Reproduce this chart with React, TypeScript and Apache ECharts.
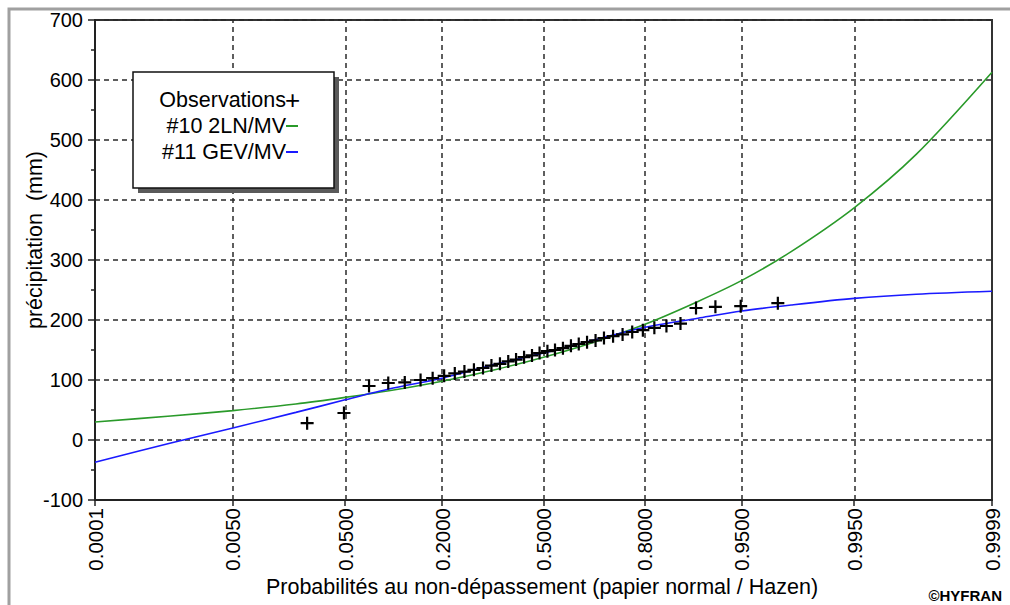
import React, { useEffect, useRef } from "react";
import * as echarts from "echarts";

// ---- Data ----
const xTickProbs = [0.0001, 0.005, 0.05, 0.2, 0.5, 0.8, 0.95, 0.995, 0.9999];
const xTickLabels = ["0.0001", "0.0050", "0.0500", "0.2000", "0.5000", "0.8000", "0.9500", "0.9950", "0.9999"];
const yMin = -100;
const yMax = 700;
const yStep = 100;

// Observations: non-exceedance probability (plotting position) and precipitation (mm)
const obsProb = [
  0.025, 0.049, 0.074, 0.099, 0.125, 0.154, 0.179, 0.205, 0.231, 0.256,
  0.282, 0.308, 0.333, 0.359, 0.385, 0.41, 0.436, 0.462, 0.487, 0.513,
  0.538, 0.564, 0.59, 0.615, 0.641, 0.667, 0.692, 0.718, 0.744, 0.769,
  0.795, 0.821, 0.846, 0.872, 0.897, 0.923, 0.949, 0.974,
];
const obsValue = [
  28, 45, 90, 95, 96, 100, 103, 107, 111, 114,
  117, 120, 124, 127, 131, 134, 138, 141, 145, 148,
  150, 153, 157, 160, 163, 166, 170, 173, 176, 180,
  183, 187, 190, 194, 220, 222, 223, 228,
];

// Fitted curves
const curveProb = [0.0001, 0.001, 0.005, 0.02, 0.05, 0.1, 0.2, 0.35, 0.5, 0.65, 0.8, 0.9, 0.95, 0.98, 0.995, 0.999, 0.9999];
const ln2Value = [30, 40, 49, 60, 71, 82, 98, 118, 138, 161, 193, 231, 266, 314, 387, 476, 613];
const gevValue = [-37, -5, 20, 46, 67, 85, 103, 127, 145, 165, 188, 203, 215, 225, 236, 243, 248];

const legendNames = ["Observations", "#10 2LN/MV", "#11 GEV/MV"];
const xTitle = "Probabilités au non-dépassement (papier normal / Hazen)";
const yTitle = "précipitation  (mm)";
const credit = "©HYFRAN";

// normal probability paper scale: probability -> standard normal quantile
function probit(p: number): number {
  const a = [-3.969683028665376e1, 2.209460984245205e2, -2.759285104469687e2, 1.38357751867269e2, -3.066479806614716e1, 2.506628277459239];
  const b = [-5.447609879822406e1, 1.615858368580409e2, -1.556989798598866e2, 6.680131188771972e1, -1.328068155288572e1];
  const c = [-7.784894002430293e-3, -3.223964580411365e-1, -2.400758277161838, -2.549732539343734, 4.374664141464968, 2.938163982698783];
  const d = [7.784695709041462e-3, 3.224671290700398e-1, 2.445134137142996, 3.754408661907416];
  const plow = 0.02425;
  const phigh = 1 - plow;
  if (p < plow) {
    const q = Math.sqrt(-2 * Math.log(p));
    return (((((c[0] * q + c[1]) * q + c[2]) * q + c[3]) * q + c[4]) * q + c[5]) / ((((d[0] * q + d[1]) * q + d[2]) * q + d[3]) * q + 1);
  }
  if (p > phigh) {
    const q = Math.sqrt(-2 * Math.log(1 - p));
    return -(((((c[0] * q + c[1]) * q + c[2]) * q + c[3]) * q + c[4]) * q + c[5]) / ((((d[0] * q + d[1]) * q + d[2]) * q + d[3]) * q + 1);
  }
  const q = p - 0.5;
  const r = q * q;
  return ((((((a[0] * r + a[1]) * r + a[2]) * r + a[3]) * r + a[4]) * r + a[5]) * q) / (((((b[0] * r + b[1]) * r + b[2]) * r + b[3]) * r + b[4]) * r + 1);
}

const FONT = "'Liberation Sans', Arial, Helvetica, sans-serif";
const GREEN = "#2a9a2a";
const BLUE = "#1a1aff";
const GRID_LINE = { color: "#2a2a2a", width: 1.5, type: [5, 4] as number[] };

function txt(text: string, x: number, y: number, opts: any = {}) {
  const align = opts.align || "left";
  const vAlign = opts.vAlign || "middle";
  return {
    type: "text",
    x,
    y,
    rotation: opts.rotation || 0,
    z: 100,
    silent: true,
    style: {
      text,
      fill: opts.fill || "#000",
      font: opts.font || `21.5px ${FONT}`,
      align,
      verticalAlign: vAlign,
      textAlign: align,
      textVerticalAlign: vAlign,
    },
  };
}

export default function App() {
  const ref = useRef<HTMLDivElement>(null);

  useEffect(() => {
    if (!ref.current) return;
    const chart = echarts.init(ref.current, undefined, { renderer: "svg" });

    const tickZ = xTickProbs.map(probit);
    const zMin = tickZ[0];
    const zMax = tickZ[tickZ.length - 1];
    const labelFor = (v: number) => {
      let best = 0;
      for (let i = 1; i < tickZ.length; i++) {
        if (Math.abs(tickZ[i] - v) < Math.abs(tickZ[best] - v)) best = i;
      }
      return xTickLabels[best];
    };

    const obsData = obsProb.map((p, i) => [probit(p), obsValue[i]]);
    const ln2Data = curveProb.map((p, i) => [probit(p), ln2Value[i]]);
    const gevData = curveProb.map((p, i) => [probit(p), gevValue[i]]);

    const plusPath = "path://M5.4,0 H7.6 V5.4 H13 V7.6 H7.6 V13 H5.4 V7.6 H0 V5.4 H5.4 Z";

    const lx = 133, ly = 72, lw = 201, lh = 116;
    const textRight = 286;

    const option: any = {
      animation: false,
      backgroundColor: "#fff",
      textStyle: { fontFamily: FONT },
      grid: {
        left: 95,
        top: 20,
        right: 18,
        bottom: 105,
        show: true,
        borderColor: "#333",
        borderWidth: 2,
        backgroundColor: "transparent",
      },
      xAxis: {
        type: "value",
        min: zMin,
        max: zMax,
        axisLine: { show: true, onZero: false, lineStyle: { color: "#222", width: 2 } },
        axisTick: { show: true, customValues: tickZ, length: 6, lineStyle: { color: "#222", width: 1.5 } },
        axisLabel: {
          customValues: tickZ,
          rotate: 90,
          margin: 8,
          formatter: (v: number) => labelFor(v),
          fontSize: 20.5,
          fontFamily: FONT,
          color: "#000",
        },
        splitLine: { show: false },
      },
      yAxis: {
        type: "value",
        min: yMin,
        max: yMax,
        interval: yStep,
        axisLine: { show: true, onZero: false, lineStyle: { color: "#222", width: 2 } },
        axisTick: { show: true, length: 7, lineStyle: { color: "#222", width: 1.5 } },
        minorTick: { show: true, splitNumber: 2, length: 4, lineStyle: { color: "#222", width: 1.5 } },
        axisLabel: { fontSize: 20, fontFamily: FONT, color: "#000", margin: 12 },
        splitLine: { show: true, lineStyle: GRID_LINE },
      },
      series: [
        {
          name: legendNames[1],
          type: "line",
          data: ln2Data,
          smooth: 0.3,
          showSymbol: false,
          symbol: "none",
          lineStyle: { color: GREEN, width: 1.6 },
          z: 3,
          silent: true,
        },
        {
          name: legendNames[2],
          type: "line",
          data: gevData,
          smooth: 0.3,
          showSymbol: false,
          symbol: "none",
          lineStyle: { color: BLUE, width: 1.6 },
          z: 4,
          silent: true,
        },
        {
          name: legendNames[0],
          type: "scatter",
          data: obsData,
          symbol: plusPath,
          symbolSize: 13,
          itemStyle: { color: "#000", opacity: 1 },
          z: 5,
          silent: true,
          markLine: {
            silent: true,
            symbol: ["none", "none"],
            label: { show: false },
            lineStyle: GRID_LINE,
            emphasis: { disabled: true },
            data: tickZ.slice(1, -1).map((z) => ({ xAxis: z })),
            z: 1,
          },
        },
      ],
      graphic: [
        // outer window frame
        {
          type: "polyline",
          z: 100,
          silent: true,
          shape: { points: [[9, 605], [9, 9], [1010, 9]] },
          style: { stroke: "#a0a0a0", lineWidth: 3, fill: "none" },
        },
        // legend shadow + box
        {
          type: "rect",
          z: 100,
          silent: true,
          shape: { x: lx + 5, y: ly + 5, width: lw, height: lh },
          style: { fill: "#5a5a5a" },
        },
        {
          type: "rect",
          z: 101,
          silent: true,
          shape: { x: lx, y: ly, width: lw, height: lh },
          style: { fill: "#fff", stroke: "#111", lineWidth: 1.5 },
        },
        { ...txt(legendNames[0], textRight, 100, { align: "right" }), z: 102 },
        { ...txt("+", textRight - 1, 100, { align: "left", font: `26px ${FONT}` }), z: 102 },
        { ...txt(legendNames[1], textRight, 126, { align: "right" }), z: 102 },
        {
          type: "line",
          z: 102,
          silent: true,
          shape: { x1: textRight, y1: 126, x2: textRight + 12, y2: 126 },
          style: { stroke: GREEN, lineWidth: 2 },
        },
        { ...txt(legendNames[2], textRight, 152, { align: "right" }), z: 102 },
        {
          type: "line",
          z: 102,
          silent: true,
          shape: { x1: textRight, y1: 152, x2: textRight + 12, y2: 152 },
          style: { stroke: BLUE, lineWidth: 2 },
        },
        // axis titles
        txt(xTitle, 542, 587, { align: "center" }),
        txt(yTitle, 35, 240, { align: "center", rotation: Math.PI / 2 }),
        txt(credit, 1002, 595, { align: "right", font: `bold 15px ${FONT}` }),
      ],
    };

    chart.setOption(option);
    return () => chart.dispose();
  }, []);

  return (
    <div
      ref={ref}
      style={{ position: "absolute", left: 0, top: 0, width: 1010, height: 605, background: "#fff" }}
    />
  );
}
